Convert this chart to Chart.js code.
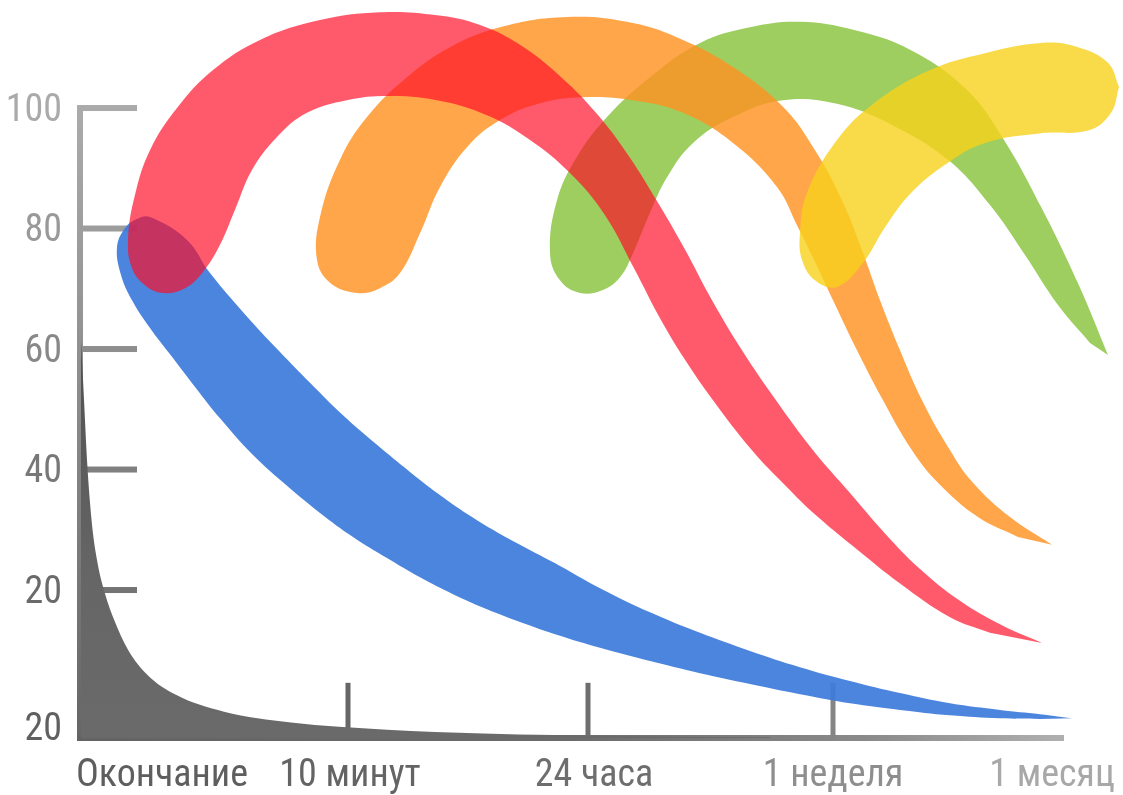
<!DOCTYPE html>
<html lang="ru">
<head>
<meta charset="utf-8">
<title>Кривая забывания</title>
<script src="https://cdn.jsdelivr.net/npm/chart.js@4.4.1/dist/chart.umd.min.js"></script>
<style>
  html, body { margin: 0; padding: 0; background: #fff; }
  #wrap { width: 1123px; height: 795px; position: relative; }
</style>
</head>
<body>
<div id="wrap"><canvas id="chart"></canvas></div>
<script>
// --- values ---
// x = position on the time line (0 = end of the lesson), y = % remembered
const xLabels = ['Окончание', '10 минут', '24 часа', '1 неделя', '1 месяц'];
const xLabelPos = [8.2, 27.0, 51.4, 75.3, 97.2];
const xLabelColors = ['#5e5e5e', '#646464', '#6e6e6e', '#8e8e8e', '#a8a8a8'];
const xMarks = [26.8, 50.8, 75.3];
const xMarkColors = ['#666666', '#6e6e6e', '#858585'];

const yLabels = ['20', '20', '40', '60', '80', '100'];
const yLabelPos = [-2.8, 20, 40, 60, 80, 100];
const yLabelColors = ['#606060', '#6a6a6a', '#787878', '#888888', '#999999', '#aaaaaa'];
const yMarks = [20, 40, 60, 80, 100];
const yMarkColors = ['#747474', '#808080', '#8e8e8e', '#9d9d9d', '#aaaaaa'];

// no repetition
const grayCurve = [
  [0.1, 61.5], [0.4, 51.6], [0.7, 41.6], [1.15, 31.7], [1.7, 25.0], [2.4, 20.0],
  [3.4, 15.1], [4.8, 10.1], [6.7, 6.0], [9.6, 2.6], [14.4, -0.2], [21.1, -2.0],
  [30.7, -3.2], [40.3, -3.8], [54.6, -4.25], [69.0, -4.45]
];
// outlines of the bands (tip -> upper edge -> cap -> lower edge)
const blueBand = [
  [99.2, -1.3], [96.0, -0.6], [92.0, 0.1], [87.0, 1.2], [82.0, 2.9], [77.0, 4.9], [72.0, 7.2],
  [67.0, 9.9], [62.0, 12.9], [57.0, 16.3], [52.0, 20.3], [48.0, 24.0], [44.0, 27.5], [39.7, 31.6],
  [36.3, 35.4], [33.0, 39.6], [29.7, 44.1], [26.3, 49.0], [23.0, 54.4], [20.0, 59.5], [17.0, 64.8],
  [13.0, 72.6], [10.7, 78.1], [7.0, 81.9], [5.7, 81.6], [4.5, 80.1], [3.7, 76.9], [4.1, 72.3],
  [5.2, 68.1], [7.0, 63.5], [9.2, 58.7], [11.6, 53.5], [14.0, 48.5], [17.3, 42.4], [20.7, 37.3],
  [24.0, 32.8], [27.3, 28.8], [30.7, 25.3], [34.0, 22.1], [37.3, 19.3], [40.7, 16.8], [44.0, 14.7],
  [48.0, 12.4], [52.0, 10.4], [57.0, 8.2], [62.0, 6.2], [67.0, 4.4], [72.0, 2.7], [77.0, 1.2],
  [82.0, 0.1], [87.0, -0.8], [92.0, -1.3], [96.0, -1.4]
];
const redBand = [
  [96.2, 11.2], [92.0, 14.3], [88.0, 18.2], [84.0, 23.5], [80.5, 29.4], [77.0, 36.1], [73.3, 43.2],
  [69.6, 51.5], [66.2, 59.8], [63.2, 68.1], [60.4, 76.8], [57.5, 85.1], [54.6, 92.7], [51.6, 99.2],
  [48.2, 105.0], [44.0, 110.5], [40.0, 113.8], [35.7, 115.4], [30.0, 115.9], [24.0, 114.6],
  [18.0, 111.3], [13.3, 106.3], [9.7, 100.0], [7.0, 93.0], [5.5, 85.6], [4.8, 78.1], [5.2, 73.4],
  [6.5, 70.6], [8.3, 69.3], [10.5, 70.1], [12.3, 72.8], [14.0, 77.3], [15.5, 83.1], [17.2, 89.7],
  [19.7, 95.2], [22.7, 99.2], [26.7, 101.3], [30.7, 102.0], [35.7, 101.3], [40.7, 98.8],
  [45.0, 94.7], [49.0, 89.2], [52.5, 82.2], [55.4, 73.4], [58.0, 65.1], [60.5, 58.2], [63.3, 51.5],
  [67.2, 43.2], [70.5, 37.4], [73.8, 32.1], [77.8, 26.6], [82.0, 21.1], [87.0, 15.5], [91.0, 12.9]
];
const orangeBand = [
  [97.2, 27.5], [93.0, 32.1], [89.3, 37.8], [87.0, 43.2], [84.2, 51.5], [82.0, 59.8], [80.0, 68.1],
  [78.2, 76.4], [76.2, 84.7], [73.5, 93.0], [70.3, 100.2], [65.3, 106.8], [60.3, 111.3],
  [55.3, 114.1], [48.7, 115.1], [42.0, 113.4], [37.0, 110.1], [32.7, 105.1], [28.7, 98.5],
  [26.0, 91.4], [24.0, 81.9], [23.7, 74.8], [25.0, 71.0], [27.7, 69.3], [30.0, 70.1], [32.0, 72.6],
  [34.0, 79.2], [36.0, 86.9], [38.7, 93.5], [42.0, 98.0], [46.0, 100.8], [50.3, 101.8],
  [55.3, 101.3], [60.3, 99.2], [65.3, 94.2], [69.7, 86.9], [71.8, 80.2], [73.4, 74.8], [75.3, 68.1],
  [77.7, 59.8], [80.3, 51.5], [83.2, 43.2], [85.8, 37.8], [89.8, 32.1], [93.8, 28.8]
];
const greenBand = [
  [102.8, 59.0], [99.8, 70.9], [96.1, 83.6], [92.4, 94.7], [88.7, 103.0], [83.1, 109.6],
  [77.5, 112.9], [72.0, 114.3], [67.0, 113.4], [62.0, 110.8], [57.0, 105.1], [52.7, 98.5],
  [49.7, 91.9], [47.7, 84.7], [47.0, 75.9], [48.0, 71.4], [50.0, 69.3], [52.3, 69.8], [54.0, 71.9],
  [55.3, 75.9], [57.0, 82.6], [58.7, 88.5], [61.3, 94.2], [65.3, 98.5], [70.3, 101.3], [75.7, 100.7],
  [81.2, 97.2], [86.8, 91.4], [91.0, 83.9], [94.5, 75.6], [97.8, 67.3], [101.0, 61.0]
];
const yellowBand = [
  [103.9, 103.5], [103.1, 99.2], [100.9, 96.3], [96.1, 95.8], [90.5, 94.2], [86.8, 90.9],
  [83.1, 85.9], [80.5, 80.2], [78.3, 74.3], [75.7, 70.3], [73.5, 71.4], [72.2, 74.8], [72.0, 79.2],
  [72.7, 85.9], [75.7, 94.7], [79.4, 100.8], [85.0, 106.3], [90.5, 109.1], [96.1, 110.8],
  [99.8, 110.1], [102.8, 107.5], [103.9, 103.5]
];

// Roboto is variable here, 'condensed' goes into the font shorthand through weight
const font = { family: 'Roboto, sans-serif', size: 38, weight: 'normal condensed' };

function pts(list) { return list.map(p => ({ x: p[0], y: p[1] })); }

function band(list, color, order) {
  return {
    data: pts(list),
    backgroundColor: color,
    borderColor: 'rgba(0,0,0,0)',
    borderWidth: 0,
    pointRadius: 0,
    tension: 0.4,
    fill: 'shape',
    order: order
  };
}

// axis lines and tick stubs, drawn under the bands
const axisPlugin = {
  id: 'axisLines',
  beforeDatasetsDraw(chart) {
    const { ctx, scales: { x, y } } = chart;
    const x0 = x.getPixelForValue(0);
    const yb = y.getPixelForValue(y.min);
    const yt = y.getPixelForValue(100);
    ctx.save();
    let g = ctx.createLinearGradient(0, yt, 0, yb);
    g.addColorStop(0, '#ababab');
    g.addColorStop(1, '#666666');
    ctx.fillStyle = g;
    ctx.fillRect(x0 - 3, yt - 3, 6, yb - yt + 6);
    const stubEnd = x.getPixelForValue(5.7);
    yMarks.forEach((v, i) => {
      ctx.fillStyle = yMarkColors[i];
      ctx.fillRect(x0, y.getPixelForValue(v) - 3, stubEnd - x0, 6);
    });
    const xe = x.getPixelForValue(98.4);
    g = ctx.createLinearGradient(x0, 0, xe, 0);
    g.addColorStop(0, '#636363');
    g.addColorStop(0.5, '#6c6c6c');
    g.addColorStop(0.8, '#8a8a8a');
    g.addColorStop(1, '#b0b0b0');
    ctx.fillStyle = g;
    ctx.fillRect(x0 - 3, yb - 3, xe - x0 + 3, 6);
    const markTop = y.getPixelForValue(4.6);
    xMarks.forEach((v, i) => {
      ctx.fillStyle = xMarkColors[i];
      ctx.fillRect(x.getPixelForValue(v) - 2.5, markTop, 5, yb - markTop);
    });
    ctx.restore();
  }
};

new Chart(document.getElementById('chart'), {
  type: 'line',
  data: {
    datasets: [
      band(blueBand, 'rgba(62,124,218,0.93)', 5),
      band(redBand, 'rgba(255,12,39,0.68)', 1),
      band(orangeBand, 'rgba(255,146,34,0.82)', 3),
      band(greenBand, 'rgba(140,198,67,0.85)', 4),
      band(yellowBand, 'rgba(248,209,29,0.81)', 2),
      {
        data: pts(grayCurve),
        borderColor: 'rgba(0,0,0,0)',
        borderWidth: 0,
        pointRadius: 0,
        cubicInterpolationMode: 'monotone',
        fill: 'start',
        order: 6,
        backgroundColor(c) {
          const area = c.chart.chartArea;
          if (!area) return '#666';
          const g = c.chart.ctx.createLinearGradient(0, c.chart.scales.y.getPixelForValue(62), 0, area.bottom);
          g.addColorStop(0, '#505050');
          g.addColorStop(0.6, '#666666');
          g.addColorStop(1, '#6a6a6a');
          return g;
        }
      }
    ]
  },
  options: {
    responsive: true,
    maintainAspectRatio: false,
    animation: false,
    events: [],
    layout: { padding: { top: 5.6, right: 0, left: 0, bottom: 0 } },
    plugins: { legend: { display: false }, tooltip: { enabled: false } },
    scales: {
      x: {
        type: 'linear',
        min: 0,
        max: 104.3,
        grid: { display: false, drawTicks: false },
        border: { display: false },
        afterBuildTicks: axis => { axis.ticks = xLabelPos.map(v => ({ value: v })); },
        afterFit: axis => { axis.height = 57; axis.paddingLeft = 0; axis.paddingRight = 0; },
        ticks: {
          autoSkip: false,
          maxRotation: 0,
          padding: 16,
          font: font,
          color: c => xLabelColors[c.index],
          callback: (v, i) => xLabels[i]
        }
      },
      y: {
        min: -4.56,
        max: 117,
        grid: { display: false, drawTicks: false },
        border: { display: false },
        afterBuildTicks: axis => { axis.ticks = yLabelPos.map(v => ({ value: v })); },
        afterFit: axis => { axis.width = 80; axis.paddingTop = 0; axis.paddingBottom = 0; },
        ticks: {
          autoSkip: false,
          padding: 18,
          labelOffset: 3,
          font: font,
          color: c => yLabelColors[c.index],
          callback: (v, i) => yLabels[i]
        }
      }
    }
  },
  plugins: [axisPlugin]
});
</script>
</body>
</html>
